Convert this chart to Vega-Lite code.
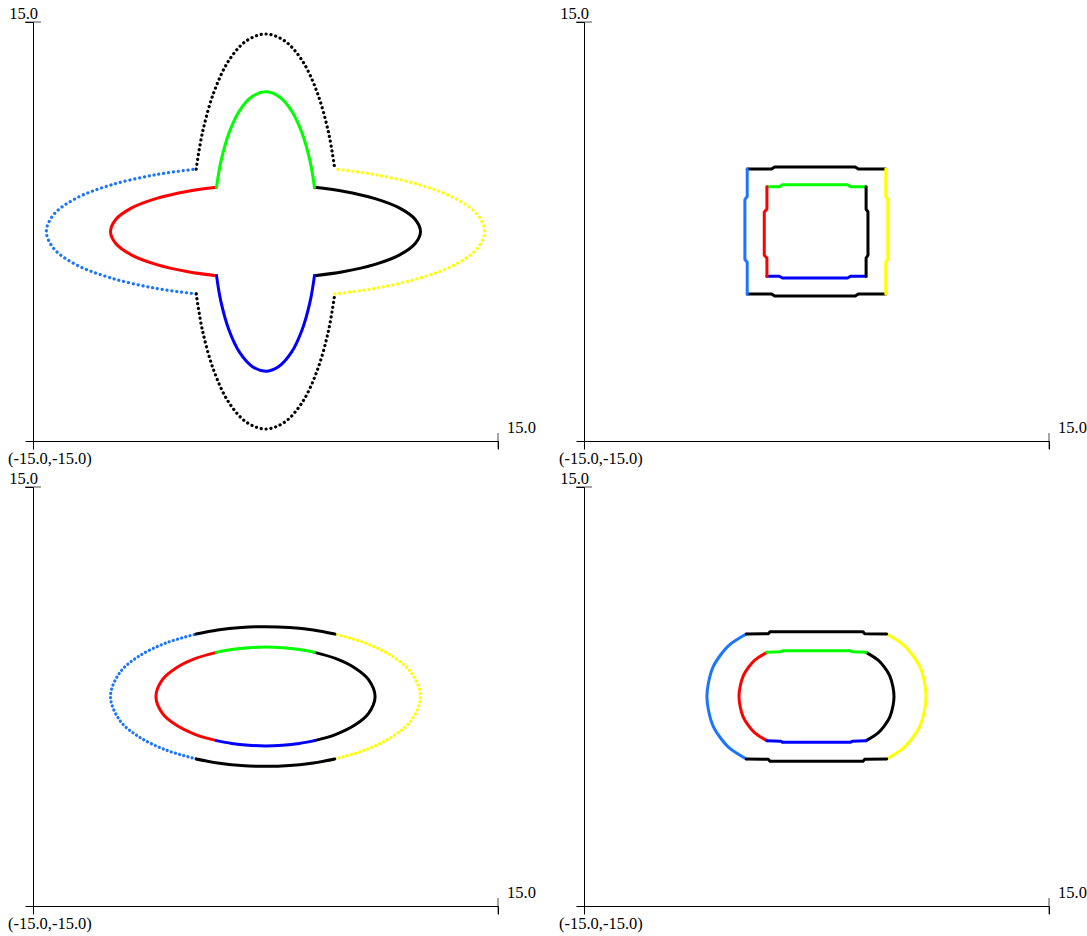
{
  "$schema": "https://vega.github.io/schema/vega-lite/v6.json",
  "background": "white",
  "padding": {"left": 8, "top": 6, "right": 5, "bottom": 5},
  "config": {"view": {"stroke": null}, "text": {"font": "Liberation Serif, serif", "fontSize": 16.5, "color": "black"}},
  "datasets": {
    "pts": [
      {"p":1,"g":"il","x":-3.16,"y":-3.16},{"p":1,"g":"il","x":-5,"y":-2.88},{"p":1,"g":"il","x":-7.07,"y":-2.35},{"p":1,"g":"il","x":-8.66,"y":-1.67},{"p":1,"g":"il","x":-9.66,"y":-0.86},{"p":1,"g":"il","x":-10,"y":0},{"p":1,"g":"il","x":-9.66,"y":0.86},{"p":1,"g":"il","x":-8.66,"y":1.67},{"p":1,"g":"il","x":-7.07,"y":2.35},{"p":1,"g":"il","x":-5,"y":2.88},{"p":1,"g":"il","x":-3.16,"y":3.16},
      {"p":1,"g":"ir","x":3.16,"y":-3.16},{"p":1,"g":"ir","x":5,"y":-2.88},{"p":1,"g":"ir","x":7.07,"y":-2.35},{"p":1,"g":"ir","x":8.66,"y":-1.67},{"p":1,"g":"ir","x":9.66,"y":-0.86},{"p":1,"g":"ir","x":10,"y":0},{"p":1,"g":"ir","x":9.66,"y":0.86},{"p":1,"g":"ir","x":8.66,"y":1.67},{"p":1,"g":"ir","x":7.07,"y":2.35},{"p":1,"g":"ir","x":5,"y":2.88},{"p":1,"g":"ir","x":3.16,"y":3.16},
      {"p":1,"g":"it","x":-3.16,"y":3.16},{"p":1,"g":"it","x":-2.88,"y":5},{"p":1,"g":"it","x":-2.35,"y":7.07},{"p":1,"g":"it","x":-1.67,"y":8.66},{"p":1,"g":"it","x":-0.86,"y":9.66},{"p":1,"g":"it","x":0,"y":10},{"p":1,"g":"it","x":0.86,"y":9.66},{"p":1,"g":"it","x":1.67,"y":8.66},{"p":1,"g":"it","x":2.35,"y":7.07},{"p":1,"g":"it","x":2.88,"y":5},{"p":1,"g":"it","x":3.16,"y":3.16},
      {"p":1,"g":"ib","x":-3.16,"y":-3.16},{"p":1,"g":"ib","x":-2.88,"y":-5},{"p":1,"g":"ib","x":-2.35,"y":-7.07},{"p":1,"g":"ib","x":-1.67,"y":-8.66},{"p":1,"g":"ib","x":-0.86,"y":-9.66},{"p":1,"g":"ib","x":0,"y":-10},{"p":1,"g":"ib","x":0.86,"y":-9.66},{"p":1,"g":"ib","x":1.67,"y":-8.66},{"p":1,"g":"ib","x":2.35,"y":-7.07},{"p":1,"g":"ib","x":2.88,"y":-5},{"p":1,"g":"ib","x":3.16,"y":-3.16},
      {"p":1,"g":"ol","x":-4.47,"y":-4.47},{"p":1,"g":"ol","x":-7.07,"y":-4.07},{"p":1,"g":"ol","x":-10,"y":-3.32},{"p":1,"g":"ol","x":-12.25,"y":-2.36},{"p":1,"g":"ol","x":-13.66,"y":-1.22},{"p":1,"g":"ol","x":-14.14,"y":0},{"p":1,"g":"ol","x":-13.66,"y":1.22},{"p":1,"g":"ol","x":-12.25,"y":2.36},{"p":1,"g":"ol","x":-10,"y":3.32},{"p":1,"g":"ol","x":-7.07,"y":4.07},{"p":1,"g":"ol","x":-4.47,"y":4.47},
      {"p":1,"g":"or","x":4.47,"y":-4.47},{"p":1,"g":"or","x":7.07,"y":-4.07},{"p":1,"g":"or","x":10,"y":-3.32},{"p":1,"g":"or","x":12.25,"y":-2.36},{"p":1,"g":"or","x":13.66,"y":-1.22},{"p":1,"g":"or","x":14.14,"y":0},{"p":1,"g":"or","x":13.66,"y":1.22},{"p":1,"g":"or","x":12.25,"y":2.36},{"p":1,"g":"or","x":10,"y":3.32},{"p":1,"g":"or","x":7.07,"y":4.07},{"p":1,"g":"or","x":4.47,"y":4.47},
      {"p":1,"g":"ot","x":-4.47,"y":4.47},{"p":1,"g":"ot","x":-4.07,"y":7.07},{"p":1,"g":"ot","x":-3.32,"y":10},{"p":1,"g":"ot","x":-2.36,"y":12.25},{"p":1,"g":"ot","x":-1.22,"y":13.66},{"p":1,"g":"ot","x":0,"y":14.14},{"p":1,"g":"ot","x":1.22,"y":13.66},{"p":1,"g":"ot","x":2.36,"y":12.25},{"p":1,"g":"ot","x":3.32,"y":10},{"p":1,"g":"ot","x":4.07,"y":7.07},{"p":1,"g":"ot","x":4.47,"y":4.47},
      {"p":1,"g":"ob","x":-4.47,"y":-4.47},{"p":1,"g":"ob","x":-4.07,"y":-7.07},{"p":1,"g":"ob","x":-3.32,"y":-10},{"p":1,"g":"ob","x":-2.36,"y":-12.25},{"p":1,"g":"ob","x":-1.22,"y":-13.66},{"p":1,"g":"ob","x":0,"y":-14.14},{"p":1,"g":"ob","x":1.22,"y":-13.66},{"p":1,"g":"ob","x":2.36,"y":-12.25},{"p":1,"g":"ob","x":3.32,"y":-10},{"p":1,"g":"ob","x":4.07,"y":-7.07},{"p":1,"g":"ob","x":4.47,"y":-4.47},

      {"p":2,"g":"ot","x":-4.47,"y":4.47},{"p":2,"g":"ot","x":-2.9,"y":4.47},{"p":2,"g":"ot","x":-2.7,"y":4.62},{"p":2,"g":"ot","x":2.5,"y":4.62},{"p":2,"g":"ot","x":2.7,"y":4.47},{"p":2,"g":"ot","x":4.47,"y":4.47},
      {"p":2,"g":"ob","x":-4.47,"y":-4.47},{"p":2,"g":"ob","x":-2.9,"y":-4.47},{"p":2,"g":"ob","x":-2.7,"y":-4.62},{"p":2,"g":"ob","x":2.5,"y":-4.62},{"p":2,"g":"ob","x":2.7,"y":-4.47},{"p":2,"g":"ob","x":4.47,"y":-4.47},
      {"p":2,"g":"ol","x":-4.47,"y":-4.47},{"p":2,"g":"ol","x":-4.47,"y":-2.2},{"p":2,"g":"ol","x":-4.62,"y":-2.0},{"p":2,"g":"ol","x":-4.62,"y":2.3},{"p":2,"g":"ol","x":-4.47,"y":2.5},{"p":2,"g":"ol","x":-4.47,"y":4.47},
      {"p":2,"g":"or","x":4.47,"y":-4.47},{"p":2,"g":"or","x":4.47,"y":-2.2},{"p":2,"g":"or","x":4.6,"y":-2.0},{"p":2,"g":"or","x":4.6,"y":2.3},{"p":2,"g":"or","x":4.47,"y":2.5},{"p":2,"g":"or","x":4.47,"y":4.47},
      {"p":2,"g":"it","x":-3.2,"y":3.2},{"p":2,"g":"it","x":-2.4,"y":3.2},{"p":2,"g":"it","x":-2.2,"y":3.35},{"p":2,"g":"it","x":2.0,"y":3.35},{"p":2,"g":"it","x":2.2,"y":3.2},{"p":2,"g":"it","x":3.2,"y":3.2},
      {"p":2,"g":"ib","x":-3.2,"y":-3.2},{"p":2,"g":"ib","x":-2.4,"y":-3.2},{"p":2,"g":"ib","x":-2.2,"y":-3.33},{"p":2,"g":"ib","x":2.0,"y":-3.33},{"p":2,"g":"ib","x":2.2,"y":-3.2},{"p":2,"g":"ib","x":3.2,"y":-3.2},
      {"p":2,"g":"il","x":-3.2,"y":-3.2},{"p":2,"g":"il","x":-3.2,"y":-1.9},{"p":2,"g":"il","x":-3.37,"y":-1.7},{"p":2,"g":"il","x":-3.37,"y":1.4},{"p":2,"g":"il","x":-3.2,"y":1.6},{"p":2,"g":"il","x":-3.2,"y":3.2},
      {"p":2,"g":"ir","x":3.2,"y":-3.2},{"p":2,"g":"ir","x":3.2,"y":-1.9},{"p":2,"g":"ir","x":3.32,"y":-1.7},{"p":2,"g":"ir","x":3.32,"y":1.4},{"p":2,"g":"ir","x":3.2,"y":1.6},{"p":2,"g":"ir","x":3.2,"y":3.2},

      {"p":3,"g":"ol","x":-4.47,"y":-4.47},{"p":3,"g":"ol","x":-6.43,"y":-3.83},{"p":3,"g":"ol","x":-8.19,"y":-2.87},{"p":3,"g":"ol","x":-9.4,"y":-1.71},{"p":3,"g":"ol","x":-10,"y":0},{"p":3,"g":"ol","x":-9.4,"y":1.71},{"p":3,"g":"ol","x":-8.19,"y":2.87},{"p":3,"g":"ol","x":-6.43,"y":3.83},{"p":3,"g":"ol","x":-4.47,"y":4.47},
      {"p":3,"g":"or","x":4.47,"y":-4.47},{"p":3,"g":"or","x":6.43,"y":-3.83},{"p":3,"g":"or","x":8.19,"y":-2.87},{"p":3,"g":"or","x":9.4,"y":-1.71},{"p":3,"g":"or","x":10,"y":0},{"p":3,"g":"or","x":9.4,"y":1.71},{"p":3,"g":"or","x":8.19,"y":2.87},{"p":3,"g":"or","x":6.43,"y":3.83},{"p":3,"g":"or","x":4.47,"y":4.47},
      {"p":3,"g":"ot","x":-4.47,"y":4.47},{"p":3,"g":"ot","x":-3.09,"y":4.76},{"p":3,"g":"ot","x":-1.56,"y":4.94},{"p":3,"g":"ot","x":0,"y":5},{"p":3,"g":"ot","x":1.56,"y":4.94},{"p":3,"g":"ot","x":3.09,"y":4.76},{"p":3,"g":"ot","x":4.47,"y":4.47},
      {"p":3,"g":"ob","x":-4.47,"y":-4.47},{"p":3,"g":"ob","x":-3.09,"y":-4.76},{"p":3,"g":"ob","x":-1.56,"y":-4.94},{"p":3,"g":"ob","x":0,"y":-5},{"p":3,"g":"ob","x":1.56,"y":-4.94},{"p":3,"g":"ob","x":3.09,"y":-4.76},{"p":3,"g":"ob","x":4.47,"y":-4.47},
      {"p":3,"g":"il","x":-3.16,"y":-3.16},{"p":3,"g":"il","x":-4.55,"y":-2.71},{"p":3,"g":"il","x":-5.79,"y":-2.03},{"p":3,"g":"il","x":-6.65,"y":-1.21},{"p":3,"g":"il","x":-7.07,"y":0},{"p":3,"g":"il","x":-6.65,"y":1.21},{"p":3,"g":"il","x":-5.79,"y":2.03},{"p":3,"g":"il","x":-4.55,"y":2.71},{"p":3,"g":"il","x":-3.16,"y":3.16},
      {"p":3,"g":"ir","x":3.16,"y":-3.16},{"p":3,"g":"ir","x":4.55,"y":-2.71},{"p":3,"g":"ir","x":5.79,"y":-2.03},{"p":3,"g":"ir","x":6.65,"y":-1.21},{"p":3,"g":"ir","x":7.07,"y":0},{"p":3,"g":"ir","x":6.65,"y":1.21},{"p":3,"g":"ir","x":5.79,"y":2.03},{"p":3,"g":"ir","x":4.55,"y":2.71},{"p":3,"g":"ir","x":3.16,"y":3.16},
      {"p":3,"g":"it","x":-3.16,"y":3.16},{"p":3,"g":"it","x":-2.18,"y":3.36},{"p":3,"g":"it","x":-1.1,"y":3.49},{"p":3,"g":"it","x":0,"y":3.54},{"p":3,"g":"it","x":1.1,"y":3.49},{"p":3,"g":"it","x":2.18,"y":3.36},{"p":3,"g":"it","x":3.16,"y":3.16},
      {"p":3,"g":"ib","x":-3.16,"y":-3.16},{"p":3,"g":"ib","x":-2.18,"y":-3.36},{"p":3,"g":"ib","x":-1.1,"y":-3.49},{"p":3,"g":"ib","x":0,"y":-3.54},{"p":3,"g":"ib","x":1.1,"y":-3.49},{"p":3,"g":"ib","x":2.18,"y":-3.36},{"p":3,"g":"ib","x":3.16,"y":-3.16},

      {"p":4,"g":"it","x":-3.2,"y":3.16},{"p":4,"g":"it","x":-2.3,"y":3.2},{"p":4,"g":"it","x":-2.2,"y":3.28},{"p":4,"g":"it","x":2.2,"y":3.28},{"p":4,"g":"it","x":2.3,"y":3.2},{"p":4,"g":"it","x":3.2,"y":3.16},
      {"p":4,"g":"ib","x":-3.2,"y":-3.16},{"p":4,"g":"ib","x":-2.3,"y":-3.2},{"p":4,"g":"ib","x":-2.2,"y":-3.28},{"p":4,"g":"ib","x":2.2,"y":-3.28},{"p":4,"g":"ib","x":2.3,"y":-3.2},{"p":4,"g":"ib","x":3.2,"y":-3.16},
      {"p":4,"g":"il","x":-3.2,"y":3.16},{"p":4,"g":"il","x":-3.98,"y":2.6},{"p":4,"g":"il","x":-4.38,"y":2.1},{"p":4,"g":"il","x":-4.72,"y":1.5},{"p":4,"g":"il","x":-4.93,"y":0.7},{"p":4,"g":"il","x":-5,"y":0},{"p":4,"g":"il","x":-4.93,"y":-0.7},{"p":4,"g":"il","x":-4.72,"y":-1.5},{"p":4,"g":"il","x":-4.38,"y":-2.1},{"p":4,"g":"il","x":-3.98,"y":-2.6},{"p":4,"g":"il","x":-3.2,"y":-3.16},
      {"p":4,"g":"ir","x":3.2,"y":3.16},{"p":4,"g":"ir","x":3.98,"y":2.6},{"p":4,"g":"ir","x":4.38,"y":2.1},{"p":4,"g":"ir","x":4.72,"y":1.5},{"p":4,"g":"ir","x":4.93,"y":0.7},{"p":4,"g":"ir","x":5,"y":0},{"p":4,"g":"ir","x":4.93,"y":-0.7},{"p":4,"g":"ir","x":4.72,"y":-1.5},{"p":4,"g":"ir","x":4.38,"y":-2.1},{"p":4,"g":"ir","x":3.98,"y":-2.6},{"p":4,"g":"ir","x":3.2,"y":-3.16},
      {"p":4,"g":"ot","x":-4.53,"y":4.47},{"p":4,"g":"ot","x":-3.1,"y":4.5},{"p":4,"g":"ot","x":-3.0,"y":4.64},{"p":4,"g":"ot","x":3.0,"y":4.64},{"p":4,"g":"ot","x":3.1,"y":4.5},{"p":4,"g":"ot","x":4.53,"y":4.47},
      {"p":4,"g":"ob","x":-4.53,"y":-4.47},{"p":4,"g":"ob","x":-3.1,"y":-4.5},{"p":4,"g":"ob","x":-3.0,"y":-4.64},{"p":4,"g":"ob","x":3.0,"y":-4.64},{"p":4,"g":"ob","x":3.1,"y":-4.5},{"p":4,"g":"ob","x":4.53,"y":-4.47},
      {"p":4,"g":"ol","x":-4.53,"y":4.47},{"p":4,"g":"ol","x":-5.63,"y":3.68},{"p":4,"g":"ol","x":-6.19,"y":2.97},{"p":4,"g":"ol","x":-6.67,"y":2.12},{"p":4,"g":"ol","x":-6.97,"y":0.99},{"p":4,"g":"ol","x":-7.07,"y":0},{"p":4,"g":"ol","x":-6.97,"y":-0.99},{"p":4,"g":"ol","x":-6.67,"y":-2.12},{"p":4,"g":"ol","x":-6.19,"y":-2.97},{"p":4,"g":"ol","x":-5.63,"y":-3.68},{"p":4,"g":"ol","x":-4.53,"y":-4.47},
      {"p":4,"g":"or","x":4.53,"y":4.47},{"p":4,"g":"or","x":5.63,"y":3.68},{"p":4,"g":"or","x":6.19,"y":2.97},{"p":4,"g":"or","x":6.67,"y":2.12},{"p":4,"g":"or","x":6.97,"y":0.99},{"p":4,"g":"or","x":7.07,"y":0},{"p":4,"g":"or","x":6.97,"y":-0.99},{"p":4,"g":"or","x":6.67,"y":-2.12},{"p":4,"g":"or","x":6.19,"y":-2.97},{"p":4,"g":"or","x":5.63,"y":-3.68},{"p":4,"g":"or","x":4.53,"y":-4.47}
    ]
  },
  "columns": 2,
  "bounds": "flush",
  "spacing": {"row": 46, "column": 86},
  "concat": [
    {
      "width": 465, "height": 419,
      "layer": [
        {
          "data": {"name": "pts"},
          "transform": [{"filter": "datum.p == 1"}],
          "encoding": {
            "x": {"field": "x", "type": "quantitative", "scale": {"domain": [-15, 15], "nice": false, "zero": false}, "axis": {"values": [-15, 15], "labels": false, "grid": false, "title": null, "tickSize": 8, "domainColor": "black", "tickColor": "black"}},
            "y": {"field": "y", "type": "quantitative", "scale": {"domain": [-15, 15], "nice": false, "zero": false}, "axis": {"values": [-15, 15], "labels": false, "grid": false, "title": null, "tickSize": 8, "domainColor": "black", "tickColor": "black"}},
            "color": {"field": "g", "type": "nominal", "scale": {"domain": ["ol","or","ot","ob","il","ir","it","ib"], "range": ["#1a75ff","#ffff00","#000000","#000000","#ff0000","#000000","#00ff00","#0000ff"]}, "legend": null},
            "order": {"value": null}
          },
          "layer": [
            {"transform": [{"filter": "substring(datum.g,0,1) == 'o'"}], "mark": {"type": "line", "interpolate": "catmull-rom", "strokeWidth": 3.2, "strokeCap": "round", "strokeDash": [0.1, 4.8]}},
            {"transform": [{"filter": "substring(datum.g,0,1) == 'i'"}], "mark": {"type": "line", "interpolate": "catmull-rom", "strokeWidth": 3, "strokeCap": "round", "strokeJoin": "round"}}
          ]
        },
        {"data": {"values": [{}]}, "mark": {"type": "tick", "orient": "vertical", "size": 16, "thickness": 1, "color": "black"}, "encoding": {"x": {"datum": 15, "type": "quantitative"}, "y": {"datum": -15, "type": "quantitative"}}},
        {"data": {"values": [{}]}, "mark": {"type": "tick", "orient": "horizontal", "size": 16, "thickness": 1, "color": "black"}, "encoding": {"x": {"datum": -15, "type": "quantitative"}, "y": {"datum": 15, "type": "quantitative"}}},
        {"data": {"values": [{}]}, "mark": {"type": "text", "align": "right", "baseline": "alphabetic", "dx": 5, "dy": -3}, "encoding": {"x": {"datum": -15, "type": "quantitative"}, "y": {"datum": 15, "type": "quantitative"}, "text": {"value": "15.0"}}},
        {"data": {"values": [{}]}, "mark": {"type": "text", "align": "left", "baseline": "alphabetic", "dx": 9, "dy": -8}, "encoding": {"x": {"datum": 15, "type": "quantitative"}, "y": {"datum": -15, "type": "quantitative"}, "text": {"value": "15.0"}}},
        {"data": {"values": [{}]}, "mark": {"type": "text", "align": "left", "baseline": "alphabetic", "dx": -25, "dy": 23}, "encoding": {"x": {"datum": -15, "type": "quantitative"}, "y": {"datum": -15, "type": "quantitative"}, "text": {"value": "(-15.0,-15.0)"}}}
      ]
    },
    {
      "width": 465, "height": 419,
      "layer": [
        {
          "data": {"name": "pts"},
          "transform": [{"filter": "datum.p == 2"}],
          "encoding": {
            "x": {"field": "x", "type": "quantitative", "scale": {"domain": [-15, 15], "nice": false, "zero": false}, "axis": {"values": [-15, 15], "labels": false, "grid": false, "title": null, "tickSize": 8, "domainColor": "black", "tickColor": "black"}},
            "y": {"field": "y", "type": "quantitative", "scale": {"domain": [-15, 15], "nice": false, "zero": false}, "axis": {"values": [-15, 15], "labels": false, "grid": false, "title": null, "tickSize": 8, "domainColor": "black", "tickColor": "black"}},
            "color": {"field": "g", "type": "nominal", "scale": {"domain": ["ol","or","ot","ob","il","ir","it","ib"], "range": ["#1a75ff","#ffff00","#000000","#000000","#ff0000","#000000","#00ff00","#0000ff"]}, "legend": null},
            "order": {"value": null}
          },
          "layer": [
            {"mark": {"type": "line", "interpolate": "linear", "strokeWidth": 3, "strokeCap": "round", "strokeJoin": "round"}}
          ]
        },
        {"data": {"values": [{}]}, "mark": {"type": "tick", "orient": "vertical", "size": 16, "thickness": 1, "color": "black"}, "encoding": {"x": {"datum": 15, "type": "quantitative"}, "y": {"datum": -15, "type": "quantitative"}}},
        {"data": {"values": [{}]}, "mark": {"type": "tick", "orient": "horizontal", "size": 16, "thickness": 1, "color": "black"}, "encoding": {"x": {"datum": -15, "type": "quantitative"}, "y": {"datum": 15, "type": "quantitative"}}},
        {"data": {"values": [{}]}, "mark": {"type": "text", "align": "right", "baseline": "alphabetic", "dx": 5, "dy": -3}, "encoding": {"x": {"datum": -15, "type": "quantitative"}, "y": {"datum": 15, "type": "quantitative"}, "text": {"value": "15.0"}}},
        {"data": {"values": [{}]}, "mark": {"type": "text", "align": "left", "baseline": "alphabetic", "dx": 9, "dy": -8}, "encoding": {"x": {"datum": 15, "type": "quantitative"}, "y": {"datum": -15, "type": "quantitative"}, "text": {"value": "15.0"}}},
        {"data": {"values": [{}]}, "mark": {"type": "text", "align": "left", "baseline": "alphabetic", "dx": -25, "dy": 23}, "encoding": {"x": {"datum": -15, "type": "quantitative"}, "y": {"datum": -15, "type": "quantitative"}, "text": {"value": "(-15.0,-15.0)"}}}
      ]
    },
    {
      "width": 465, "height": 419,
      "layer": [
        {
          "data": {"name": "pts"},
          "transform": [{"filter": "datum.p == 3"}],
          "encoding": {
            "x": {"field": "x", "type": "quantitative", "scale": {"domain": [-15, 15], "nice": false, "zero": false}, "axis": {"values": [-15, 15], "labels": false, "grid": false, "title": null, "tickSize": 8, "domainColor": "black", "tickColor": "black"}},
            "y": {"field": "y", "type": "quantitative", "scale": {"domain": [-15, 15], "nice": false, "zero": false}, "axis": {"values": [-15, 15], "labels": false, "grid": false, "title": null, "tickSize": 8, "domainColor": "black", "tickColor": "black"}},
            "color": {"field": "g", "type": "nominal", "scale": {"domain": ["ol","or","ot","ob","il","ir","it","ib"], "range": ["#1a75ff","#ffff00","#000000","#000000","#ff0000","#000000","#00ff00","#0000ff"]}, "legend": null},
            "order": {"value": null}
          },
          "layer": [
            {"transform": [{"filter": "datum.g == 'ol' || datum.g == 'or'"}], "mark": {"type": "line", "interpolate": "catmull-rom", "strokeWidth": 3.2, "strokeCap": "round", "strokeDash": [0.1, 4.2]}},
            {"transform": [{"filter": "datum.g != 'ol' && datum.g != 'or'"}], "mark": {"type": "line", "interpolate": "catmull-rom", "strokeWidth": 3, "strokeCap": "round", "strokeJoin": "round"}}
          ]
        },
        {"data": {"values": [{}]}, "mark": {"type": "tick", "orient": "vertical", "size": 16, "thickness": 1, "color": "black"}, "encoding": {"x": {"datum": 15, "type": "quantitative"}, "y": {"datum": -15, "type": "quantitative"}}},
        {"data": {"values": [{}]}, "mark": {"type": "tick", "orient": "horizontal", "size": 16, "thickness": 1, "color": "black"}, "encoding": {"x": {"datum": -15, "type": "quantitative"}, "y": {"datum": 15, "type": "quantitative"}}},
        {"data": {"values": [{}]}, "mark": {"type": "text", "align": "right", "baseline": "alphabetic", "dx": 5, "dy": -3}, "encoding": {"x": {"datum": -15, "type": "quantitative"}, "y": {"datum": 15, "type": "quantitative"}, "text": {"value": "15.0"}}},
        {"data": {"values": [{}]}, "mark": {"type": "text", "align": "left", "baseline": "alphabetic", "dx": 9, "dy": -8}, "encoding": {"x": {"datum": 15, "type": "quantitative"}, "y": {"datum": -15, "type": "quantitative"}, "text": {"value": "15.0"}}},
        {"data": {"values": [{}]}, "mark": {"type": "text", "align": "left", "baseline": "alphabetic", "dx": -25, "dy": 23}, "encoding": {"x": {"datum": -15, "type": "quantitative"}, "y": {"datum": -15, "type": "quantitative"}, "text": {"value": "(-15.0,-15.0)"}}}
      ]
    },
    {
      "width": 465, "height": 419,
      "layer": [
        {
          "data": {"name": "pts"},
          "transform": [{"filter": "datum.p == 4"}],
          "encoding": {
            "x": {"field": "x", "type": "quantitative", "scale": {"domain": [-15, 15], "nice": false, "zero": false}, "axis": {"values": [-15, 15], "labels": false, "grid": false, "title": null, "tickSize": 8, "domainColor": "black", "tickColor": "black"}},
            "y": {"field": "y", "type": "quantitative", "scale": {"domain": [-15, 15], "nice": false, "zero": false}, "axis": {"values": [-15, 15], "labels": false, "grid": false, "title": null, "tickSize": 8, "domainColor": "black", "tickColor": "black"}},
            "color": {"field": "g", "type": "nominal", "scale": {"domain": ["ol","or","ot","ob","il","ir","it","ib"], "range": ["#1a75ff","#ffff00","#000000","#000000","#ff0000","#000000","#00ff00","#0000ff"]}, "legend": null},
            "order": {"value": null}
          },
          "layer": [
            {"transform": [{"filter": "datum.g == 'ol' || datum.g == 'or' || datum.g == 'il' || datum.g == 'ir'"}], "mark": {"type": "line", "interpolate": "catmull-rom", "strokeWidth": 3, "strokeCap": "round", "strokeJoin": "round"}},
            {"transform": [{"filter": "datum.g == 'ot' || datum.g == 'ob' || datum.g == 'it' || datum.g == 'ib'"}], "mark": {"type": "line", "interpolate": "linear", "strokeWidth": 3, "strokeCap": "round", "strokeJoin": "round"}}
          ]
        },
        {"data": {"values": [{}]}, "mark": {"type": "tick", "orient": "vertical", "size": 16, "thickness": 1, "color": "black"}, "encoding": {"x": {"datum": 15, "type": "quantitative"}, "y": {"datum": -15, "type": "quantitative"}}},
        {"data": {"values": [{}]}, "mark": {"type": "tick", "orient": "horizontal", "size": 16, "thickness": 1, "color": "black"}, "encoding": {"x": {"datum": -15, "type": "quantitative"}, "y": {"datum": 15, "type": "quantitative"}}},
        {"data": {"values": [{}]}, "mark": {"type": "text", "align": "right", "baseline": "alphabetic", "dx": 5, "dy": -3}, "encoding": {"x": {"datum": -15, "type": "quantitative"}, "y": {"datum": 15, "type": "quantitative"}, "text": {"value": "15.0"}}},
        {"data": {"values": [{}]}, "mark": {"type": "text", "align": "left", "baseline": "alphabetic", "dx": 9, "dy": -8}, "encoding": {"x": {"datum": 15, "type": "quantitative"}, "y": {"datum": -15, "type": "quantitative"}, "text": {"value": "15.0"}}},
        {"data": {"values": [{}]}, "mark": {"type": "text", "align": "left", "baseline": "alphabetic", "dx": -25, "dy": 23}, "encoding": {"x": {"datum": -15, "type": "quantitative"}, "y": {"datum": -15, "type": "quantitative"}, "text": {"value": "(-15.0,-15.0)"}}}
      ]
    }
  ]
}
